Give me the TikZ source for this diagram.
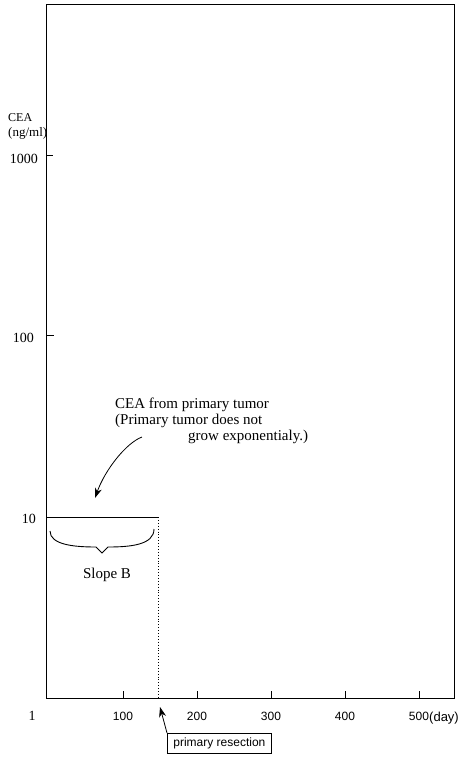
\documentclass[tikz,border=0pt]{standalone}
\usepackage{fontspec}
\setmainfont{Liberation Serif}
\newfontfamily\lsans{Liberation Sans}
\usetikzlibrary{arrows.meta}
\tikzset{
  axisline/.style={line width=0.9pt},
  ticklbl/.style={inner sep=0pt,font=\fontsize{14}{15}\selectfont},
  daylbl/.style={inner sep=0pt,font=\lsans\fontsize{12}{13}\selectfont},
  note/.style={inner sep=0pt,anchor=base west,font=\fontsize{15}{16}\selectfont},
  ptr/.style={line width=0.8pt,-{Stealth[length=10pt,width=7pt,inset=3pt]}},
}
\begin{document}
\begin{tikzpicture}[x=1pt,y=-1pt]
\useasboundingbox (0,0) rectangle (465,760);
% frame
\draw[axisline] (46,4) -- (454,4) -- (454,698) -- (46,698) -- cycle;
% y ticks
\draw[axisline] (46,155) -- (53,155);
\draw[axisline] (46,335) -- (54,335);
% y labels
\node[ticklbl,anchor=east] (y1000) at (38,159) {1000};
\node[ticklbl,anchor=east] (y100) at (34,338) {100};
\node[ticklbl,anchor=east] (y10) at (36,519) {10};
\node[inner sep=0pt,anchor=base west,font=\fontsize{12}{13}\selectfont] (cea) at (8,121) {CEA};
\node[inner sep=0pt,anchor=base west,font=\fontsize{13}{14}\selectfont] (unit) at (8,136) {(ng/ml)};
% x ticks
\foreach \x in {123,197,271,345,419} \draw[axisline] (\x,698) -- (\x,691);
% x labels
\node[daylbl,font=\fontsize{14}{15}\selectfont] (x1) at (32,716) {1};
\node[daylbl] (x100) at (123,716) {100};
\node[daylbl] (x200) at (197,716) {200};
\node[daylbl] (x300) at (271,716) {300};
\node[daylbl] (x400) at (345,716) {400};
\node[daylbl] (x500) at (419,716) {500};
\node[daylbl,anchor=west,font=\lsans\fontsize{13}{14}\selectfont] (xday) at (429,718) {(day)};
% primary tumour level
\draw[line width=0.9pt] (46,517) -- (158,517);
\draw[line width=0.9pt,dotted] (158,517) -- (158,698);
% brace
\draw[line width=0.9pt] (50,531) .. controls (50,545) and (75,547) .. (96,547) -- (102,553) -- (108,547) .. controls (130,547) and (154,545) .. (154,529);
\node[note,anchor=center] (slope) at (107,575) {Slope B};
% annotation
\node[note] (t1) at (115,408) {CEA from primary tumor};
\node[note] (t2) at (115,424) {(Primary tumor does not};
\node[note] (t3) at (188,440) {grow exponentialy.)};
\coordinate (a0) at (142,437);
\coordinate (a1) at (95,498);
\draw[ptr] (a0) .. controls (126,443) and (105,470) .. (a1);
% primary resection
\node[draw,line width=0.8pt,inner xsep=6pt,minimum height=20pt,anchor=north west,font=\lsans\fontsize{12}{13}\selectfont] (res) at (167,733) {primary resection};
\coordinate (r1) at (160,707);
\draw[ptr] (res.north west) -- (r1);
\end{tikzpicture}
\end{document}
